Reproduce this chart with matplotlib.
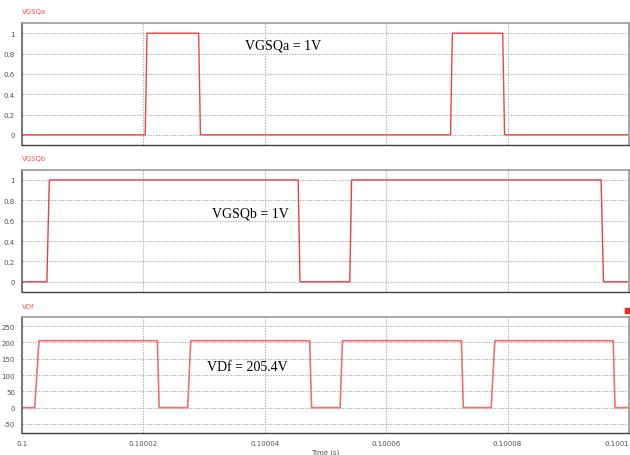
import matplotlib.pyplot as plt
from matplotlib.patches import Rectangle

# switching instants in microseconds after t = 0.1 s
vgsqa_us = [0, 20.3, 20.6, 29.1, 29.4, 70.6, 70.9, 79.2, 79.5, 99.8]
vgsqa_v = [0, 0, 1, 1, 0, 0, 1, 1, 0, 0]

vgsqb_us = [0, 4.1, 4.5, 45.5, 45.8, 54.0, 54.3, 95.4, 95.8, 99.7]
vgsqb_v = [0, 0, 1, 1, 0, 0, 1, 1, 0, 0]

vdf_us = [0, 2.1, 2.8, 22.3, 22.6, 27.3, 27.8, 47.4, 47.7, 52.4, 52.8,
          72.4, 72.7, 77.3, 77.9, 97.4, 97.7, 99.7]
vdf_v = [0, 0, 205.4, 205.4, 0, 0, 205.4, 205.4, 0, 0, 205.4,
         205.4, 0, 0, 205.4, 205.4, 0, 0]

x_ticks = [0.1, 0.10002, 0.10004, 0.10006, 0.10008, 0.1001]
x_tick_labels = ['0.1', '0.10002', '0.10004', '0.10006', '0.10008', '0.1001']
gate_ticks = [0, 0.2, 0.4, 0.6, 0.8, 1]
gate_tick_labels = ['0', '0.2', '0.4', '0.6', '0.8', '1']
vdf_ticks = [-50, 0, 50, 100, 150, 200, 250]


def to_time(us_list):
    return [0.1 + u * 1e-6 for u in us_list]


def style_axis(ax, ylim, yticks, ylabels, name):
    ax.set_xlim(0.1, 0.1001)
    ax.set_ylim(*ylim)
    ax.set_xticks(x_ticks)
    ax.set_yticks(yticks)
    ax.set_yticklabels(ylabels)
    ax.grid(True, color='#b0b0b0', linestyle=(0, (1.2, 1.2)), linewidth=0.8)
    ax.tick_params(length=0, labelsize=5, colors='#505050', pad=5)
    for side in ['top', 'right', 'left']:
        ax.spines[side].set_color('#9a9a9a')
        ax.spines[side].set_linewidth(1.2)
    ax.spines['bottom'].set_color('#404040')
    ax.spines['bottom'].set_linewidth(1.0)
    ax.spines['left'].set_color('#606060')
    ax.text(0.0, 1.07, name, transform=ax.transAxes, color='#ff5050',
            fontsize=5, ha='left', va='bottom')


fig = plt.figure(figsize=(6.3, 4.56), dpi=100)
ax1 = fig.add_axes([0.0349, 0.6798, 0.9635, 0.2675])
ax2 = fig.add_axes([0.0349, 0.3575, 0.9635, 0.2680])
ax3 = fig.add_axes([0.0349, 0.0482, 0.9635, 0.2550])

ax1.plot(to_time(vgsqa_us), vgsqa_v, color='#ee4444', linewidth=1.0)
style_axis(ax1, (-0.1, 1.1), gate_ticks, gate_tick_labels, 'VGSQa')
ax1.set_xticklabels([])

ax2.plot(to_time(vgsqb_us), vgsqb_v, color='#e84040', linewidth=1.0)
style_axis(ax2, (-0.1, 1.1), gate_ticks, gate_tick_labels, 'VGSQb')
ax2.set_xticklabels([])

ax3.plot(to_time(vdf_us), vdf_v, color='#f07070', linewidth=1.2)
style_axis(ax3, (-78, 279), vdf_ticks, [str(v) for v in vdf_ticks], 'VDf')
ax3.set_xticklabels(x_tick_labels)
ax3.get_xticklabels()[-1].set_horizontalalignment('right')
ax3.set_xlabel('Time (s)', fontsize=5, color='#505050', labelpad=2)

serif = ['Liberation Serif', 'DejaVu Serif']
ax1.text(0.4300, 0.82, 'VGSQa = 1V', transform=ax1.transAxes,
         family=serif, fontsize=10, ha='center', va='center')
ax2.text(0.3770, 0.65, 'VGSQb = 1V', transform=ax2.transAxes,
         family=serif, fontsize=10, ha='center', va='center')
ax3.text(0.3710, 0.57, 'VDf = 205.4V', transform=ax3.transAxes,
         family=serif, fontsize=10, ha='center', va='center')

# small red marker at the top right of the bottom trace
fig.patches.append(Rectangle((0.9925, 0.311), 0.006, 0.011,
                             transform=fig.transFigure, color='#ff2020'))

fig.savefig('out.png', dpi=100)
